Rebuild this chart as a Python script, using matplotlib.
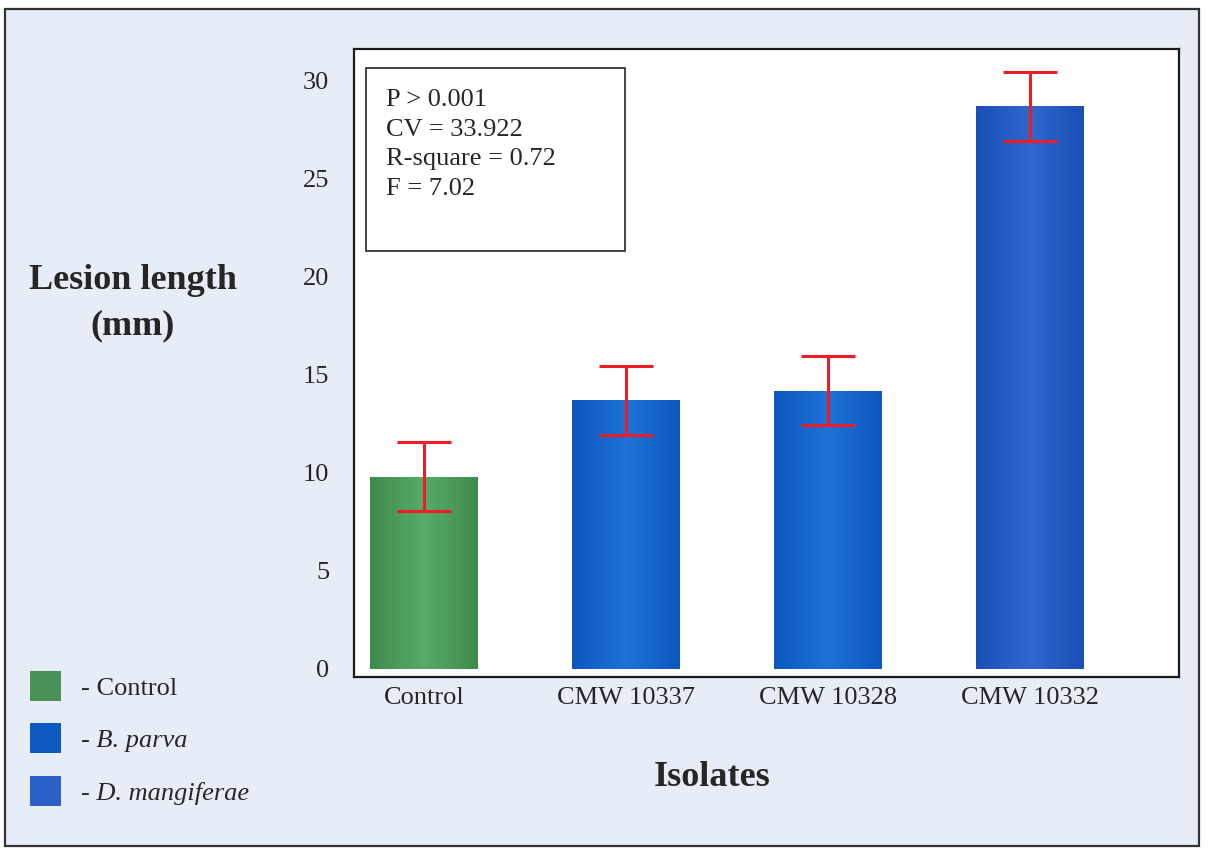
import matplotlib
matplotlib.use("Agg")
import matplotlib.pyplot as plt
import numpy as np
from matplotlib.patches import Patch, Rectangle
from matplotlib.colors import LinearSegmentedColormap

# ---- data ----
isolates = ["Control", "CMW 10337", "CMW 10328", "CMW 10332"]
lesion_mm = [9.8, 13.7, 14.2, 28.7]
lesion_err = [1.76, 1.76, 1.76, 1.76]
groups = ["Control", "B. parva", "B. parva", "D. mangiferae"]
legend_labels = ["- Control", "- B. parva", "- D. mangiferae"]
stats_lines = ["P > 0.001", "CV = 33.922", "R-square = 0.72", "F = 7.02"]
yticks = [0, 5, 10, 15, 20, 25, 30]

# ---- styles ----
SERIF = ["Liberation Serif", "DejaVu Serif"]
plt.rcParams["font.family"] = SERIF
TXT = "#262626"
BG = "#e7edf7"
group_style = {
    "Control": ("#3f8a4e", "#58ab68", "#4a9158"),
    "B. parva": ("#0c58bc", "#1e72d8", "#0e5abf"),
    "D. mangiferae": ("#1a4fb5", "#3068cf", "#2a5fc8"),
}

W, H = 1209, 850
fig = plt.figure(figsize=(W / 100, H / 100), dpi=100, facecolor="white")

# outer scanned-page panel
fig.patches.append(Rectangle((5 / W, 1 - 846 / H), 1194 / W, 837 / H,
                             transform=fig.transFigure, facecolor=BG,
                             edgecolor="#333333", lw=1.6, zorder=-5))

ax = fig.add_axes([354 / W, 1 - 677 / H, (1179 - 354) / W, (677 - 49) / H])
ax.set_facecolor("white")

x = np.arange(len(isolates))
bars = ax.bar(x, lesion_mm, width=0.535, zorder=2,
              color=[group_style[g][2] for g in groups], linewidth=0)

# horizontal shading inside each bar
grad = np.linspace(0, 1, 200).reshape(1, -1)
for b, g in zip(bars, groups):
    edge, mid, _ = group_style[g]
    cmap = LinearSegmentedColormap.from_list("c", [edge, mid, edge])
    x0, y0 = b.get_x(), b.get_y()
    im = ax.imshow(grad, cmap=cmap, aspect="auto", zorder=3,
                   extent=(x0, x0 + b.get_width(), y0, y0 + b.get_height()),
                   interpolation="bilinear")
    im.set_clip_path(b)

ax.errorbar(x, lesion_mm, yerr=lesion_err, fmt="none", ecolor="#ee1c25",
            elinewidth=2.2, capsize=19.5, capthick=2.2, zorder=4)

ax.set_xlim(-0.348, 3.740)
ax.set_ylim(-0.41, 31.63)
ax.set_yticks(yticks)
ax.set_xticks(x)
ax.set_xticklabels(isolates)
ax.tick_params(axis="both", length=0, labelsize=19, labelcolor=TXT)
ax.tick_params(axis="y", pad=18)
ax.tick_params(axis="x", pad=7)
for s in ax.spines.values():
    s.set_linewidth(1.6)
    s.set_color("#1a1a1a")

# statistics box
ax.add_patch(Rectangle((0.0145, 0.678), 0.3135, 0.292, transform=ax.transAxes,
                       fill=False, edgecolor="#262626", lw=1.2, zorder=5))
ax.text(0.0387, 0.936, "\n".join(stats_lines), transform=ax.transAxes,
        ha="left", va="top", fontsize=19, color=TXT, linespacing=1.44, zorder=6)

# axis titles
fig.text(133 / W, 1 - 303 / H, "Lesion length\n(mm)", ha="center", va="center",
         multialignment="center", fontsize=26, fontweight="bold", color=TXT,
         linespacing=1.47)
fig.text(712 / W, 1 - 778 / H, "Isolates", ha="center", va="center",
         fontsize=26, fontweight="bold", color=TXT)

# legend
handles = [Patch(facecolor=group_style[g][2], edgecolor="none")
           for g in ["Control", "B. parva", "D. mangiferae"]]
leg = fig.legend(handles, legend_labels, loc="upper left",
                 bbox_to_anchor=(30 / W, 1 - 671 / H), frameon=False,
                 borderpad=0, borderaxespad=0, fontsize=19,
                 handlelength=1.17, handleheight=1.37, handletextpad=0.76,
                 labelspacing=0.85)
for t in leg.get_texts():
    t.set_color(TXT)
for t in leg.get_texts()[1:]:
    t.set_fontstyle("italic")

fig.savefig("out.png", dpi=100, facecolor="white")
